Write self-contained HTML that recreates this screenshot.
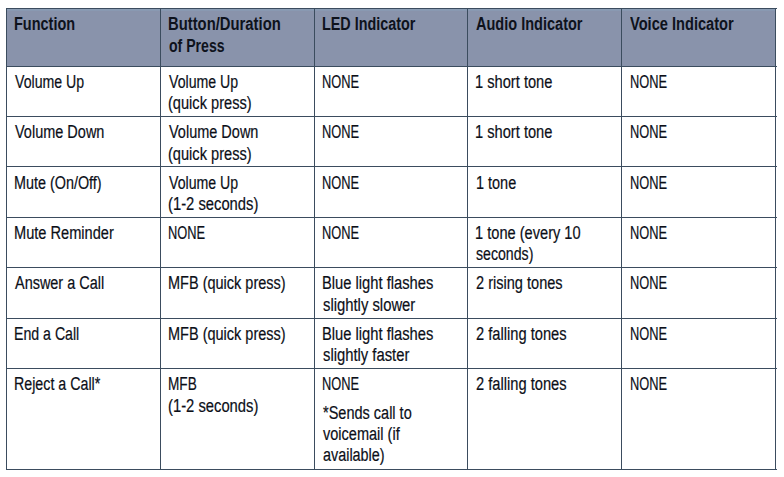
<!DOCTYPE html>
<html><head><meta charset="utf-8"><style>
html,body{margin:0;padding:0;background:#fff;width:784px;height:477px;overflow:hidden;position:relative}
.l{position:absolute;background:#3b4c5e}
.t{position:absolute;font-family:"Liberation Sans",sans-serif;font-size:18px;line-height:20px;color:#0c0f18;white-space:nowrap;transform-origin:0 0;-webkit-text-stroke:0.2px currentColor}
.b{font-weight:bold;color:#0e121c;-webkit-text-stroke:0}
</style></head><body>
<div style="position:absolute;left:6px;top:8px;width:769px;height:58px;background:#8993ab"></div>
<div style="position:absolute;left:7px;top:9px;width:768px;height:1px;background:#8a9db4"></div>
<div style="position:absolute;left:7px;top:10px;width:768px;height:1px;background:#8999b2"></div>
<div class="l" style="left:6px;top:8px;width:1px;height:462px"></div>
<div class="l" style="left:160px;top:8px;width:1px;height:462px"></div>
<div class="l" style="left:314px;top:8px;width:1px;height:462px"></div>
<div class="l" style="left:467px;top:8px;width:1px;height:462px"></div>
<div class="l" style="left:621px;top:8px;width:1px;height:462px"></div>
<div class="l" style="left:775px;top:8px;width:1px;height:462px"></div>
<div class="l" style="left:6px;top:8px;width:771px;height:1px"></div>
<div class="l" style="left:6px;top:66px;width:771px;height:1px"></div>
<div class="l" style="left:6px;top:116px;width:771px;height:1px"></div>
<div class="l" style="left:6px;top:166px;width:771px;height:1px"></div>
<div class="l" style="left:6px;top:217px;width:771px;height:1px"></div>
<div class="l" style="left:6px;top:267px;width:771px;height:1px"></div>
<div class="l" style="left:6px;top:318px;width:771px;height:1px"></div>
<div class="l" style="left:6px;top:368px;width:771px;height:1px"></div>
<div class="l" style="left:6px;top:469px;width:771px;height:1px"></div>
<div class="t b" style="left:13.80px;top:14px;transform:scaleX(0.8042)">Function</div>
<div class="t b" style="left:167.68px;top:14px;transform:scaleX(0.8231)">Button/Duration</div>
<div class="t b" style="left:168.50px;top:36px;transform:scaleX(0.7829)">of Press</div>
<div class="t b" style="left:321.70px;top:14px;transform:scaleX(0.7974)">LED Indicator</div>
<div class="t b" style="left:476.30px;top:14px;transform:scaleX(0.8069)">Audio Indicator</div>
<div class="t b" style="left:630.00px;top:14px;transform:scaleX(0.8121)">Voice Indicator</div>
<div class="t" style="left:14.60px;top:72px;transform:scaleX(0.7860)">Volume Up</div>
<div class="t" style="left:168.50px;top:72px;transform:scaleX(0.7860)">Volume Up</div>
<div class="t" style="left:167.69px;top:93px;transform:scaleX(0.8116)">(quick press)</div>
<div class="t" style="left:321.79px;top:72px;transform:scaleX(0.7137)">NONE</div>
<div class="t" style="left:475.49px;top:72px;transform:scaleX(0.8144)">1 short tone</div>
<div class="t" style="left:629.99px;top:72px;transform:scaleX(0.7137)">NONE</div>
<div class="t" style="left:14.60px;top:122px;transform:scaleX(0.8051)">Volume Down</div>
<div class="t" style="left:168.50px;top:122px;transform:scaleX(0.8051)">Volume Down</div>
<div class="t" style="left:167.69px;top:144px;transform:scaleX(0.8116)">(quick press)</div>
<div class="t" style="left:321.79px;top:122px;transform:scaleX(0.7137)">NONE</div>
<div class="t" style="left:475.49px;top:122px;transform:scaleX(0.8144)">1 short tone</div>
<div class="t" style="left:629.99px;top:122px;transform:scaleX(0.7137)">NONE</div>
<div class="t" style="left:13.80px;top:173px;transform:scaleX(0.7985)">Mute (On/Off)</div>
<div class="t" style="left:168.50px;top:173px;transform:scaleX(0.7860)">Volume Up</div>
<div class="t" style="left:167.68px;top:194px;transform:scaleX(0.8209)">(1-2 seconds)</div>
<div class="t" style="left:321.79px;top:173px;transform:scaleX(0.7137)">NONE</div>
<div class="t" style="left:475.50px;top:173px;transform:scaleX(0.8035)">1 tone</div>
<div class="t" style="left:629.99px;top:173px;transform:scaleX(0.7137)">NONE</div>
<div class="t" style="left:13.79px;top:223px;transform:scaleX(0.8111)">Mute Reminder</div>
<div class="t" style="left:167.79px;top:223px;transform:scaleX(0.7137)">NONE</div>
<div class="t" style="left:321.79px;top:223px;transform:scaleX(0.7137)">NONE</div>
<div class="t" style="left:475.49px;top:223px;transform:scaleX(0.8120)">1 tone (every 10</div>
<div class="t" style="left:476.30px;top:244px;transform:scaleX(0.7856)">seconds)</div>
<div class="t" style="left:629.99px;top:223px;transform:scaleX(0.7137)">NONE</div>
<div class="t" style="left:14.60px;top:273px;transform:scaleX(0.8024)">Answer a Call</div>
<div class="t" style="left:167.69px;top:273px;transform:scaleX(0.8054)">MFB (quick press)</div>
<div class="t" style="left:321.68px;top:273px;transform:scaleX(0.8180)">Blue light flashes</div>
<div class="t" style="left:322.50px;top:295px;transform:scaleX(0.8238)">slightly slower</div>
<div class="t" style="left:476.30px;top:273px;transform:scaleX(0.8089)">2 rising tones</div>
<div class="t" style="left:629.99px;top:273px;transform:scaleX(0.7137)">NONE</div>
<div class="t" style="left:13.81px;top:324px;transform:scaleX(0.7859)">End a Call</div>
<div class="t" style="left:167.69px;top:324px;transform:scaleX(0.8054)">MFB (quick press)</div>
<div class="t" style="left:321.68px;top:324px;transform:scaleX(0.8180)">Blue light flashes</div>
<div class="t" style="left:322.50px;top:345px;transform:scaleX(0.8225)">slightly faster</div>
<div class="t" style="left:476.30px;top:324px;transform:scaleX(0.8157)">2 falling tones</div>
<div class="t" style="left:629.99px;top:324px;transform:scaleX(0.7137)">NONE</div>
<div class="t" style="left:13.81px;top:374px;transform:scaleX(0.7914)">Reject a Call*</div>
<div class="t" style="left:167.74px;top:374px;transform:scaleX(0.7570)">MFB</div>
<div class="t" style="left:167.68px;top:396px;transform:scaleX(0.8209)">(1-2 seconds)</div>
<div class="t" style="left:321.79px;top:374px;transform:scaleX(0.7137)">NONE</div>
<div class="t" style="left:322.50px;top:403px;transform:scaleX(0.8060)">*Sends call to</div>
<div class="t" style="left:322.50px;top:424px;transform:scaleX(0.8071)">voicemail (if</div>
<div class="t" style="left:322.50px;top:445px;transform:scaleX(0.7995)">available)</div>
<div class="t" style="left:476.30px;top:374px;transform:scaleX(0.8157)">2 falling tones</div>
<div class="t" style="left:629.99px;top:374px;transform:scaleX(0.7137)">NONE</div>
</body></html>
